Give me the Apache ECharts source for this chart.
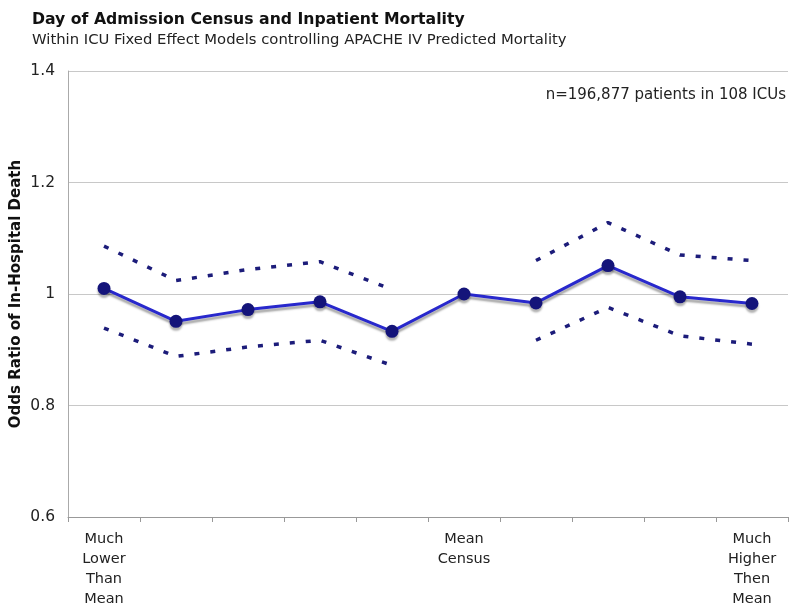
<!DOCTYPE html>
<html>
<head>
<meta charset="utf-8">
<script src="https://cdn.jsdelivr.net/npm/echarts@6/dist/echarts.min.js"></script>
<style>html,body{margin:0;padding:0;background:#fff}#c{width:800px;height:611px}</style>
</head>
<body>
<div id="c"></div>
<script>
var categories = ['Much\nLower\nThan\nMean', '', '', '', '', 'Mean\nCensus', '', '', '', 'Much\nHigher\nThen\nMean'];
var oddsRatio = [1.010, 0.951, 0.972, 0.986, 0.933, 1.000, 0.984, 1.051, 0.995, 0.983];
var upperCI = [1.086, 1.024, 1.044, 1.058, 1.008, null, 1.060, 1.128, 1.070, 1.060];
var lowerCI = [0.939, 0.888, 0.905, 0.917, 0.872, null, 0.917, 0.976, 0.925, 0.910];
var yTicks = [0.6, 0.8, 1.0, 1.2, 1.4];

var font = 'DejaVu Sans, Verdana, sans-serif';
var chart = echarts.init(document.getElementById('c'), null, {renderer: 'canvas'});
var ciStyle = {color: '#1c1c7a', width: 3.5, type: [5, 11], cap: 'butt'};
chart.setOption({
  animation: false,
  textStyle: {fontFamily: font},
  title: [{
    text: 'Day of Admission Census and Inpatient Mortality',
    subtext: 'Within ICU Fixed Effect Models controlling APACHE IV Predicted Mortality',
    left: 27, top: 7, itemGap: 5,
    textStyle: {fontFamily: font, fontSize: 15.7, fontWeight: 'bold', color: '#111'},
    subtextStyle: {fontFamily: font, fontSize: 14.8, color: '#222'}
  }],
  graphic: [{
    type: 'text', right: 14, top: 88,
    style: {text: 'n=196,877 patients in 108 ICUs', font: '15px ' + font, fill: '#222'}
  }],
  grid: {left: 68, right: 12, top: 71, bottom: 94, outerBoundsMode: 'none', containLabel: false},
  xAxis: {
    type: 'category', data: categories, boundaryGap: true,
    axisLine: {lineStyle: {color: '#999', width: 1}},
    axisTick: {show: true, length: 5, lineStyle: {color: '#999'}},
    axisLabel: {interval: 0, color: '#222', fontSize: 14.5, lineHeight: 20, margin: 12, fontFamily: font}
  },
  yAxis: {
    type: 'value', min: yTicks[0], max: yTicks[yTicks.length - 1], interval: 0.2,
    name: 'Odds Ratio of In-Hospital Death', nameLocation: 'middle', nameGap: 44, nameMoveOverlap: false,
    nameTextStyle: {fontFamily: font, fontSize: 15, fontWeight: 'bold', color: '#111'},
    axisLine: {show: true, lineStyle: {color: '#aaa'}},
    axisTick: {show: false},
    splitLine: {lineStyle: {color: '#c8c8c8', width: 1}},
    axisLabel: {color: '#222', fontSize: 15.5, margin: 13, fontFamily: font,
      formatter: function (v) { return String(Math.round(v * 10) / 10); }}
  },
  series: [
    {type: 'line', data: upperCI, symbol: 'none', connectNulls: false, lineStyle: ciStyle, z: 2},
    {type: 'line', data: lowerCI, symbol: 'none', connectNulls: false, lineStyle: ciStyle, z: 2},
    {type: 'line', data: oddsRatio, symbol: 'circle', symbolSize: 13,
      lineStyle: {color: '#2828cc', width: 3, shadowColor: 'rgba(0,0,0,0.35)', shadowOffsetY: 3, shadowBlur: 2},
      itemStyle: {color: '#14147a', shadowColor: 'rgba(0,0,0,0.3)', shadowOffsetY: 3, shadowBlur: 2}, z: 3}
  ]
});
</script>
</body>
</html>
